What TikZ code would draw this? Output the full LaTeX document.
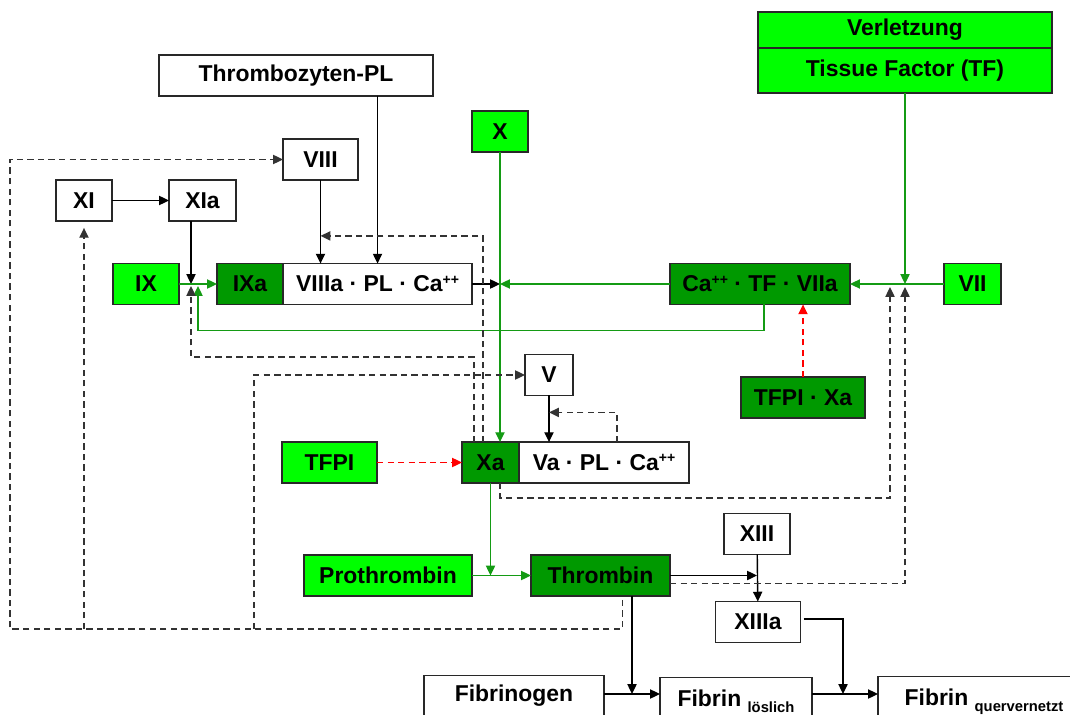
\documentclass[tikz,border=0pt]{standalone}
\usepackage{fontspec}
\setmainfont{Liberation Sans}
\usepackage{tikz}
\usetikzlibrary{arrows.meta,positioning,calc}
\usepackage{xcolor}
\definecolor{litegreen}{RGB}{0,255,0}
\definecolor{darkgreen}{RGB}{0,153,0}
\definecolor{linegreen}{RGB}{20,155,20}
\definecolor{boxline}{RGB}{40,40,40}
\newcommand{\caion}{Ca\raisebox{0.62ex}{\fontsize{10}{11}\selectfont ++}}
\newcommand{\fibsub}[1]{\raisebox{-4.5pt}[0pt][0pt]{\fontsize{10.5}{12}\selectfont #1}}

\begin{document}
\begin{tikzpicture}[x=0.025cm, y=-0.025cm,
    box/.style={rectangle, draw=boxline, line width=1pt, fill=white, outer sep=0pt,
               minimum height=1.02cm, inner sep=2pt, font=\fontsize{16.3}{19}\selectfont\bfseries},
    gbox/.style={box, fill=litegreen},
    dbox/.style={box, fill=darkgreen},
    arr/.style={-{Triangle[length=7pt,width=6.5pt]}, line width=1pt},
    garr/.style={arr, linegreen},
    darr/.style={arr, black!80, dash pattern=on 4.5pt off 3pt},
    rarr/.style={arr, red, dash pattern=on 4.5pt off 3pt}
]
    \useasboundingbox (0,0) rectangle (1070,715);
    \clip (0,0) rectangle (1070,715);

    % Trigger (top right)
    \node[gbox, minimum width=7.35cm, minimum height=0.9cm] (verl) at (905,30) {Verletzung};
    \node[gbox, minimum width=7.35cm, minimum height=1.12cm, below=0pt of verl] (tf) {Tissue Factor (TF)};

    % Upper factors
    \node[box, minimum width=6.85cm] (tpl) at (296,75.5) {Thrombozyten-PL};
    \node[gbox, minimum width=1.4cm] (x) at (500,131.5) {X};
    \node[box, minimum width=1.875cm] (viii) at (320.5,159.5) {VIII};
    \node[box, minimum width=1.4cm] (xi) at (84,200.5) {XI};
    \node[box, minimum width=1.675cm] (xia) at (202.5,200.5) {XIa};

    % Tenase row
    \node[gbox, minimum width=1.65cm] (ix) at (146,284) {IX};
    \node[dbox, minimum width=1.65cm] (ixa) at (250,284) {IXa};
    \node[box, minimum width=4.725cm, right=0pt of ixa] (viiia) {VIIIa · PL · \caion};
    \node[dbox, minimum width=4.5cm] (catf) at (760,284) {\caion{} · TF · VIIa};
    \node[gbox, minimum width=1.425cm] (vii) at (972.5,284) {VII};

    \node[box, minimum width=1.2cm] (v) at (549,375) {V};
    \node[dbox, minimum width=3.1cm] (tfpixa) at (803,397.5) {TFPI · Xa};

    % Prothrombinase row
    \node[gbox, minimum width=2.375cm] (tfpi) at (329.5,462.5) {TFPI};
    \node[dbox, minimum width=1.425cm] (xa) at (490.5,462.5) {Xa};
    \node[box, minimum width=4.25cm, right=0pt of xa] (va) {Va · PL · \caion};

    \node[gbox, minimum width=4.2cm] (proth) at (388,575.5) {Prothrombin};
    \node[dbox, minimum width=3.475cm] (thr) at (600.5,575.5) {Thrombin};
    \node[box, minimum width=1.65cm] (xiii) at (757,534) {XIII};
    \node[box, minimum width=2.125cm] (xiiia) at (758,622) {XIIIa};

    % Fibrin row (cut at the bottom)
    \node[box, minimum width=4.5cm] (fgen) at (514,696) {Fibrinogen};
    \node[box, minimum width=3.8cm] (flos) at (736,698) {Fibrin \fibsub{löslich}};
    \node[box, minimum width=5.3cm] (fqv) at (984,697) {Fibrin \fibsub{quervernetzt}};

    % junctions
    \coordinate (jix) at (191,284);
    \coordinate (jx) at (x.south |- viiia.east);
    \coordinate (jvii) at (tf.south |- vii.west);
    \coordinate (jviii) at ($(viii.south)+(0,56)$);
    \coordinate (jpt) at (xa.south |- proth.east);
    \coordinate (jxiii) at (xiii.south |- thr.east);
    \coordinate (jfib) at (632,694);
    \coordinate (jqv) at (843,694);
    \coordinate (fbl) at (10,629);

    % extrinsic path
    \draw[garr] (tf) -- (jvii);
    \draw[garr] (vii) -- (catf);
    \draw[garr] (catf) -- (jx);
    \draw[rarr] (tfpixa) -- (tfpixa.north |- catf.south);
    \draw[garr] ($(catf.south)+(4,0)$) -- ++(0,26) -| ($(jix)+(7,2)$);

    % intrinsic path
    \draw[arr] (xi) -- (xia);
    \draw[arr] (xia.south -| jix) -- (jix);
    \draw[garr] (ix) -- (ixa);
    \draw[arr] (viii) -- (viii.south |- viiia.north);
    \draw[arr] (viiia.north |- tpl.south) -- (viiia.north);
    \draw[arr] (viiia) -- (jx);
    \draw[garr] (x) -- (x.south |- xa.north);

    % prothrombinase
    \draw[rarr] (tfpi) -- (xa);
    \draw[arr] (v) -- (v |- va.north);
    \draw[darr] ($(va.north west)+(98,0)$) |- ($(v.south)+(0,17)$);
    \draw[garr] (xa) -- (jpt);
    \draw[garr] (proth) -- (thr);

    % feedback of Xa
    \draw[darr] ($(xa.north west)+(12,0)$) -- ++(0,-85) -| ($(jix)+(0,2)$);
    \draw[darr] ($(xa.north west)+(21,0)$) |- (jviii);
    \draw[darr] ($(xa.south west)+(38,0)$) -- ++(0,15) -| ($(jvii)+(-15,3)$);

    % thrombin
    \draw[arr] (thr) -- (jxiii);
    \draw[arr] (xiii) -- (xiiia);
    \draw[darr] ($(thr.east)+(0,8)$) -| ($(jvii)+(0,3)$);
    \draw[darr] ($(thr.south)+(22,4)$) |- (fbl) |- (viii);
    \draw[darr] (fbl -| xi.south) -- ($(xi.south)+(0,7)$);
    \draw[darr] ($(fbl)+(244,0)$) |- (v);

    % fibrin
    \draw[arr] (thr.south -| jfib) -- (jfib);
    \draw[arr] (fgen.east |- jfib) -- (flos.west |- jfib);
    \draw[arr] (flos.east |- jqv) -- (fqv.west |- jqv);
    \draw[arr] ($(xiiia.east)+(3,-3)$) -| (jqv);
\end{tikzpicture}
\end{document}
